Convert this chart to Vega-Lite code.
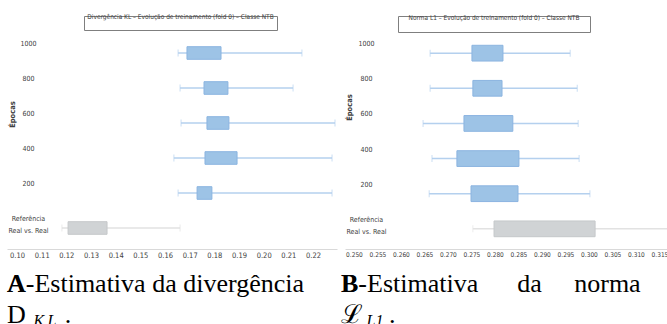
{
  "$schema": "https://vega.github.io/schema/vega-lite/v6.json",
  "background": "white",
  "padding": {"left": 7, "top": 13, "right": 0, "bottom": 0},
  "spacing": 4,
  "datasets": {
    "kl": [
      {"epoca": "1000", "grupo": "treino", "lo": 0.1653, "q1": 0.1689, "q3": 0.1827, "hi": 0.2155},
      {"epoca": "800", "grupo": "treino", "lo": 0.1661, "q1": 0.1758, "q3": 0.1855, "hi": 0.2119},
      {"epoca": "600", "grupo": "treino", "lo": 0.1665, "q1": 0.1770, "q3": 0.1859, "hi": 0.2289},
      {"epoca": "400", "grupo": "treino", "lo": 0.1636, "q1": 0.1762, "q3": 0.1892, "hi": 0.2277},
      {"epoca": "200", "grupo": "treino", "lo": 0.1653, "q1": 0.1730, "q3": 0.1790, "hi": 0.2277},
      {"epoca": "Referência Real vs. Real", "grupo": "referência", "lo": 0.1182, "q1": 0.1207, "q3": 0.1365, "hi": 0.1661}
    ],
    "l1": [
      {"epoca": "1000", "grupo": "treino", "lo": 0.2662, "q1": 0.2751, "q3": 0.2817, "hi": 0.2960},
      {"epoca": "800", "grupo": "treino", "lo": 0.2662, "q1": 0.2753, "q3": 0.2815, "hi": 0.2975},
      {"epoca": "600", "grupo": "treino", "lo": 0.2647, "q1": 0.2734, "q3": 0.2838, "hi": 0.2977},
      {"epoca": "400", "grupo": "treino", "lo": 0.2666, "q1": 0.2719, "q3": 0.2851, "hi": 0.2979},
      {"epoca": "200", "grupo": "treino", "lo": 0.2660, "q1": 0.2749, "q3": 0.2849, "hi": 0.3002},
      {"epoca": "Referência Real vs. Real", "grupo": "referência", "lo": 0.2753, "q1": 0.2798, "q3": 0.3013, "hi": 0.3180}
    ]
  },
  "hconcat": [
    {
      "spacing": 1,
      "title": {
        "text": "A",
        "subtitle": ["A-Estimativa da divergência", "D\u00a0\u00a0\u00a0\u00a0\u00a0\u00a0."],
        "orient": "bottom", "anchor": "start", "frame": "bounds", "offset": -57,
        "font": "Liberation Serif", "fontSize": 26, "fontWeight": "bold", "color": "black",
        "lineHeight": 26, "baseline": "top",
        "subtitleFont": "Liberation Serif", "subtitleFontSize": 26, "subtitleFontWeight": "normal",
        "subtitleColor": "black", "subtitleLineHeight": 31, "subtitlePadding": -26
      },
      "vconcat": [
        {
          "spacing": 0,
          "hconcat": [
            {"width": 76, "height": 14, "view": {"stroke": null}, "data": {"values": [{}]}, "mark": {"type": "text", "text": ""}, "encoding": {}},
            {
              "width": 193, "height": 14, "view": {"stroke": "#7f7f7f"},
              "data": {"values": [{}]}, "mark": {"type": "text", "text": ""}, "encoding": {},
              "title": {
                "text": "Divergência KL – Evolução de treinamento (fold 0) – Classe NTB",
                "orient": "top", "anchor": "middle", "frame": "group", "offset": -7, "baseline": "middle",
                "font": "Liberation Sans Narrow, DejaVu Sans Condensed, sans-serif", "fontSize": 6.5, "fontWeight": "normal", "color": "#404040"
              }
            }
          ]
        },
        {
          "width": 330, "height": 217,
          "view": {"stroke": null},
          "data": {"name": "kl"},
          "encoding": {
            "y": {
              "field": "epoca", "type": "nominal",
              "sort": ["1000", "800", "600", "400", "200", "Referência Real vs. Real"],
              "scale": {"paddingInner": 0.64, "paddingOuter": 0.42},
              "axis": {
                "title": "Épocas", "orient": "left", "domain": false, "ticks": false, "tickSize": 0, "grid": false,
                "labelPadding": -21, "labelAlign": "center", "labelBaseline": "middle", "labelOffset": -9,
                "labelFont": "Liberation Sans Narrow, DejaVu Sans Condensed, sans-serif", "labelFontSize": 7, "labelColor": "#404040", "labelLineHeight": 12,
                "labelExpr": "datum.label == 'Referência Real vs. Real' ? ['Referência', 'Real vs. Real'] : datum.label",
                "titleX": 5, "titleY": 82, "titleAlign": "center", "titleBaseline": "middle", "titleAngle": -90,
                "titleFont": "Liberation Sans Narrow, DejaVu Sans Condensed, sans-serif", "titleFontSize": 7.5, "titleFontWeight": "bold", "titleColor": "#404040"
              }
            }
          },
          "layer": [
            {
              "mark": {"type": "rule", "strokeWidth": 1.5, "clip": true},
              "encoding": {
                "x": {
                  "field": "lo", "type": "quantitative",
                  "scale": {"domain": [0.095947, 0.22971], "nice": false, "zero": false},
                  "axis": {
                    "orient": "bottom",
                    "values": [0.10, 0.11, 0.12, 0.13, 0.14, 0.15, 0.16, 0.17, 0.18, 0.19, 0.20, 0.21, 0.22],
                    "format": ".2f", "domain": true, "domainColor": "#d9d9d9", "ticks": false, "tickSize": 0, "grid": false,
                    "labelPadding": 2, "labelFont": "Liberation Sans Narrow, DejaVu Sans Condensed, sans-serif", "labelFontSize": 7.5, "labelColor": "#404040",
                    "labelFlush": false, "labelOverlap": false,
                    "title": "K\u2009L", "titleX": 26, "titleY": 76, "titleAlign": "left", "titleBaseline": "alphabetic", "titleAngle": 0,
                    "titleFont": "Liberation Serif", "titleFontStyle": "italic", "titleFontSize": 16, "titleFontWeight": "normal", "titleColor": "black"
                  }
                },
                "x2": {"field": "hi"},
                "color": {"field": "grupo", "type": "nominal", "scale": {"domain": ["treino", "referência"], "range": ["#B4D0EE", "#E2E2E2"]}, "legend": null}
              }
            },
            {
              "mark": {"type": "tick", "orient": "vertical", "thickness": 1, "clip": true},
              "encoding": {
                "x": {
                  "field": "lo", "type": "quantitative",
                  "axis": {
                    "orient": "bottom",
                    "values": [0.10, 0.11, 0.12, 0.13, 0.14, 0.15, 0.16, 0.17, 0.18, 0.19, 0.20, 0.21, 0.22],
                    "format": ".2f", "domain": true, "domainColor": "#d9d9d9", "ticks": false, "tickSize": 0, "grid": false,
                    "labelPadding": 2, "labelFont": "Liberation Sans Narrow, DejaVu Sans Condensed, sans-serif", "labelFontSize": 7.5, "labelColor": "#404040",
                    "labelFlush": false, "labelOverlap": false,
                    "title": "K\u2009L", "titleX": 26, "titleY": 76, "titleAlign": "left", "titleBaseline": "alphabetic", "titleAngle": 0,
                    "titleFont": "Liberation Serif", "titleFontStyle": "italic", "titleFontSize": 16, "titleFontWeight": "normal", "titleColor": "black"
                  }
                },
                "size": {"value": 7},
                "color": {"field": "grupo", "type": "nominal", "legend": null}
              }
            },
            {
              "mark": {"type": "tick", "orient": "vertical", "thickness": 1, "clip": true},
              "encoding": {
                "x": {
                  "field": "hi", "type": "quantitative",
                  "axis": {
                    "orient": "bottom",
                    "values": [0.10, 0.11, 0.12, 0.13, 0.14, 0.15, 0.16, 0.17, 0.18, 0.19, 0.20, 0.21, 0.22],
                    "format": ".2f", "domain": true, "domainColor": "#d9d9d9", "ticks": false, "tickSize": 0, "grid": false,
                    "labelPadding": 2, "labelFont": "Liberation Sans Narrow, DejaVu Sans Condensed, sans-serif", "labelFontSize": 7.5, "labelColor": "#404040",
                    "labelFlush": false, "labelOverlap": false,
                    "title": "K\u2009L", "titleX": 26, "titleY": 76, "titleAlign": "left", "titleBaseline": "alphabetic", "titleAngle": 0,
                    "titleFont": "Liberation Serif", "titleFontStyle": "italic", "titleFontSize": 16, "titleFontWeight": "normal", "titleColor": "black"
                  }
                },
                "size": {"value": 7},
                "color": {"field": "grupo", "type": "nominal", "legend": null}
              }
            },
            {
              "mark": {"type": "bar", "strokeWidth": 1, "clip": true},
              "encoding": {
                "x": {
                  "field": "q1", "type": "quantitative",
                  "axis": {
                    "orient": "bottom",
                    "values": [0.10, 0.11, 0.12, 0.13, 0.14, 0.15, 0.16, 0.17, 0.18, 0.19, 0.20, 0.21, 0.22],
                    "format": ".2f", "domain": true, "domainColor": "#d9d9d9", "ticks": false, "tickSize": 0, "grid": false,
                    "labelPadding": 2, "labelFont": "Liberation Sans Narrow, DejaVu Sans Condensed, sans-serif", "labelFontSize": 7.5, "labelColor": "#404040",
                    "labelFlush": false, "labelOverlap": false,
                    "title": "K\u2009L", "titleX": 26, "titleY": 76, "titleAlign": "left", "titleBaseline": "alphabetic", "titleAngle": 0,
                    "titleFont": "Liberation Serif", "titleFontStyle": "italic", "titleFontSize": 16, "titleFontWeight": "normal", "titleColor": "black"
                  }
                },
                "x2": {"field": "q3"},
                "fill": {"field": "grupo", "type": "nominal", "scale": {"domain": ["treino", "referência"], "range": ["#9DC3E6", "#D0D3D5"]}, "legend": null},
                "stroke": {"field": "grupo", "type": "nominal", "scale": {"domain": ["treino", "referência"], "range": ["#8BB4E0", "#C5C8CA"]}, "legend": null}
              }
            }
          ]
        }
      ]
    },
    {
      "spacing": 0,
      "title": {
        "text": "B",
        "subtitle": ["B-Estimativa\u00a0\u00a0\u00a0\u00a0\u00a0\u00a0da\u00a0\u00a0\u00a0\u00a0\u00a0norma", "ℒ\u00a0\u00a0\u00a0\u00a0."],
        "orient": "bottom", "anchor": "start", "frame": "bounds", "offset": -57, "dx": -4,
        "font": "Liberation Serif", "fontSize": 26, "fontWeight": "bold", "color": "black",
        "lineHeight": 26, "baseline": "top",
        "subtitleFont": "Liberation Serif", "subtitleFontSize": 26, "subtitleFontWeight": "normal",
        "subtitleColor": "black", "subtitleLineHeight": 31, "subtitlePadding": -26
      },
      "vconcat": [
        {
          "spacing": 0,
          "hconcat": [
            {"width": 52, "height": 16, "view": {"stroke": null}, "data": {"values": [{}]}, "mark": {"type": "text", "text": ""}, "encoding": {}},
            {
              "width": 192, "height": 16, "view": {"stroke": "#7f7f7f"},
              "data": {"values": [{}]}, "mark": {"type": "text", "text": ""}, "encoding": {},
              "title": {
                "text": "Norma L1 – Evolução de treinamento (fold 0) – Classe NTB",
                "orient": "top", "anchor": "middle", "frame": "group", "offset": -8, "baseline": "middle",
                "font": "Liberation Sans Narrow, DejaVu Sans Condensed, sans-serif", "fontSize": 6.5, "fontWeight": "normal", "color": "#404040"
              }
            }
          ]
        },
        {
          "width": 322, "height": 216,
          "view": {"stroke": null},
          "data": {"name": "l1"},
          "encoding": {
            "y": {
              "field": "epoca", "type": "nominal",
              "sort": ["1000", "800", "600", "400", "200", "Referência Real vs. Real"],
              "scale": {"paddingInner": 0.552, "paddingOuter": 0.35},
              "axis": {
                "title": "Épocas", "orient": "left", "domain": false, "ticks": false, "tickSize": 0, "grid": false,
                "labelPadding": -21, "labelAlign": "center", "labelBaseline": "middle", "labelOffset": -9,
                "labelFont": "Liberation Sans Narrow, DejaVu Sans Condensed, sans-serif", "labelFontSize": 7, "labelColor": "#404040", "labelLineHeight": 12,
                "labelExpr": "datum.label == 'Referência Real vs. Real' ? ['Referência', 'Real vs. Real'] : datum.label",
                "titleX": 4, "titleY": 74, "titleAlign": "center", "titleBaseline": "middle", "titleAngle": -90,
                "titleFont": "Liberation Sans Narrow, DejaVu Sans Condensed, sans-serif", "titleFontSize": 7.5, "titleFontWeight": "bold", "titleColor": "#404040"
              }
            }
          },
          "layer": [
            {
              "mark": {"type": "rule", "strokeWidth": 1.5, "clip": true},
              "encoding": {
                "x": {
                  "field": "lo", "type": "quantitative",
                  "scale": {"domain": [0.24809, 0.31660], "nice": false, "zero": false},
                  "axis": {
                    "orient": "bottom",
                    "values": [0.250, 0.255, 0.260, 0.265, 0.270, 0.275, 0.280, 0.285, 0.290, 0.295, 0.300, 0.305, 0.310, 0.315],
                    "format": ".3f", "domain": true, "domainColor": "#d9d9d9", "ticks": false, "tickSize": 0, "grid": false,
                    "labelPadding": 2, "labelFont": "Liberation Sans Narrow, DejaVu Sans Condensed, sans-serif", "labelFontSize": 6.5, "labelColor": "#404040",
                    "labelFlush": false, "labelOverlap": false,
                    "title": "L1", "titleX": 21, "titleY": 76, "titleAlign": "left", "titleBaseline": "alphabetic", "titleAngle": 0,
                    "titleFont": "Liberation Serif", "titleFontStyle": "italic", "titleFontSize": 16, "titleFontWeight": "normal", "titleColor": "black"
                  }
                },
                "x2": {"field": "hi"},
                "color": {"field": "grupo", "type": "nominal", "scale": {"domain": ["treino", "referência"], "range": ["#B4D0EE", "#E2E2E2"]}, "legend": null}
              }
            },
            {
              "mark": {"type": "tick", "orient": "vertical", "thickness": 1, "clip": true},
              "encoding": {
                "x": {
                  "field": "lo", "type": "quantitative",
                  "axis": {
                    "orient": "bottom",
                    "values": [0.250, 0.255, 0.260, 0.265, 0.270, 0.275, 0.280, 0.285, 0.290, 0.295, 0.300, 0.305, 0.310, 0.315],
                    "format": ".3f", "domain": true, "domainColor": "#d9d9d9", "ticks": false, "tickSize": 0, "grid": false,
                    "labelPadding": 2, "labelFont": "Liberation Sans Narrow, DejaVu Sans Condensed, sans-serif", "labelFontSize": 6.5, "labelColor": "#404040",
                    "labelFlush": false, "labelOverlap": false,
                    "title": "L1", "titleX": 21, "titleY": 76, "titleAlign": "left", "titleBaseline": "alphabetic", "titleAngle": 0,
                    "titleFont": "Liberation Serif", "titleFontStyle": "italic", "titleFontSize": 16, "titleFontWeight": "normal", "titleColor": "black"
                  }
                },
                "size": {"value": 7},
                "color": {"field": "grupo", "type": "nominal", "legend": null}
              }
            },
            {
              "mark": {"type": "tick", "orient": "vertical", "thickness": 1, "clip": true},
              "encoding": {
                "x": {
                  "field": "hi", "type": "quantitative",
                  "axis": {
                    "orient": "bottom",
                    "values": [0.250, 0.255, 0.260, 0.265, 0.270, 0.275, 0.280, 0.285, 0.290, 0.295, 0.300, 0.305, 0.310, 0.315],
                    "format": ".3f", "domain": true, "domainColor": "#d9d9d9", "ticks": false, "tickSize": 0, "grid": false,
                    "labelPadding": 2, "labelFont": "Liberation Sans Narrow, DejaVu Sans Condensed, sans-serif", "labelFontSize": 6.5, "labelColor": "#404040",
                    "labelFlush": false, "labelOverlap": false,
                    "title": "L1", "titleX": 21, "titleY": 76, "titleAlign": "left", "titleBaseline": "alphabetic", "titleAngle": 0,
                    "titleFont": "Liberation Serif", "titleFontStyle": "italic", "titleFontSize": 16, "titleFontWeight": "normal", "titleColor": "black"
                  }
                },
                "size": {"value": 7},
                "color": {"field": "grupo", "type": "nominal", "legend": null}
              }
            },
            {
              "mark": {"type": "bar", "strokeWidth": 1, "clip": true},
              "encoding": {
                "x": {
                  "field": "q1", "type": "quantitative",
                  "axis": {
                    "orient": "bottom",
                    "values": [0.250, 0.255, 0.260, 0.265, 0.270, 0.275, 0.280, 0.285, 0.290, 0.295, 0.300, 0.305, 0.310, 0.315],
                    "format": ".3f", "domain": true, "domainColor": "#d9d9d9", "ticks": false, "tickSize": 0, "grid": false,
                    "labelPadding": 2, "labelFont": "Liberation Sans Narrow, DejaVu Sans Condensed, sans-serif", "labelFontSize": 6.5, "labelColor": "#404040",
                    "labelFlush": false, "labelOverlap": false,
                    "title": "L1", "titleX": 21, "titleY": 76, "titleAlign": "left", "titleBaseline": "alphabetic", "titleAngle": 0,
                    "titleFont": "Liberation Serif", "titleFontStyle": "italic", "titleFontSize": 16, "titleFontWeight": "normal", "titleColor": "black"
                  }
                },
                "x2": {"field": "q3"},
                "fill": {"field": "grupo", "type": "nominal", "scale": {"domain": ["treino", "referência"], "range": ["#9DC3E6", "#D0D3D5"]}, "legend": null},
                "stroke": {"field": "grupo", "type": "nominal", "scale": {"domain": ["treino", "referência"], "range": ["#8BB4E0", "#C5C8CA"]}, "legend": null}
              }
            }
          ]
        }
      ]
    }
  ]
}
